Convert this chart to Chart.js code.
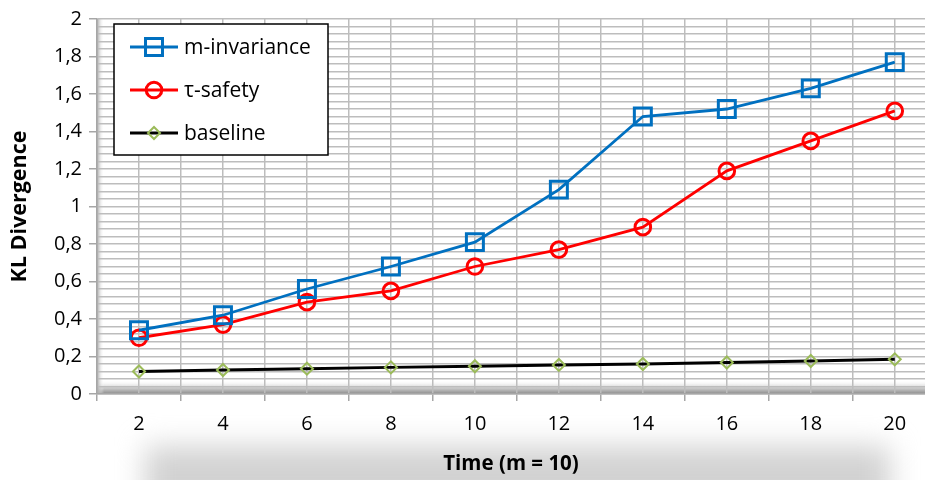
<!DOCTYPE html>
<html>
<head>
<meta charset="utf-8">
<script src="https://cdn.jsdelivr.net/npm/chart.js@4/dist/chart.umd.min.js"></script>
<style>
  html, body { margin: 0; padding: 0; background: #fff; }
  #wrap { width: 925px; height: 480px; position: relative; }
</style>
</head>
<body>
<div id="wrap"><canvas id="chart" width="925" height="480"></canvas></div>
<script>
const categories = [2, 4, 6, 8, 10, 12, 14, 16, 18, 20];
const mInvariance = [0.34, 0.42, 0.56, 0.68, 0.81, 1.09, 1.48, 1.52, 1.63, 1.77];
const tauSafety = [0.30, 0.37, 0.49, 0.55, 0.68, 0.77, 0.89, 1.19, 1.35, 1.51];
const baseline = [0.12, 0.128, 0.135, 0.142, 0.148, 0.155, 0.16, 0.168, 0.176, 0.185];
const yTickLabels = ["0", "0,2", "0,4", "0,6", "0,8", "1", "1,2", "1,4", "1,6", "1,8", "2"];

const FONT = "'Open Sans', sans-serif";
const GRID = "#bdbdbd";

const toPoints = (vals) => vals.map((v, i) => ({ x: categories[i], y: v }));

const series = [
	{ label: "m-invariance", data: mInvariance, color: "#0070c0", style: "rect", radius: 12, width: 2.8, markerColor: "#0070c0" },
	{ label: "τ-safety", data: tauSafety, color: "#ff0000", style: "circle", radius: 7.8, width: 2.8, markerColor: "#ff0000" },
	{ label: "baseline", data: baseline, color: "#000000", style: "rectRot", radius: 6, width: 3, markerColor: "#9bbb59" }
];

const isMajor = (v) => Math.abs(v / 0.2 - Math.round(v / 0.2)) < 1e-6;

// floor / wall shading and the shadow under the x title
const backdrop = {
	id: "backdrop",
	beforeDraw(chart) {
		const { ctx, chartArea: a } = chart;
		ctx.save();
		// x-title shadow
		ctx.filter = "blur(14px)";
		ctx.fillStyle = "#d2d2d2";
		ctx.fillRect(145, 446, 745, 70);
		ctx.filter = "none";
		// floor
		let g = ctx.createLinearGradient(0, a.bottom - 14, 0, a.bottom);
		g.addColorStop(0, "rgba(255,255,255,0)");
		g.addColorStop(0.6, "#c8c8c8");
		g.addColorStop(0.9, "#9a9a9a");
		g.addColorStop(1, "#d0d0d0");
		ctx.fillStyle = g;
		ctx.fillRect(a.left, a.bottom - 14, a.right - a.left, 14);
		// left wall
		g = ctx.createLinearGradient(a.left, 0, a.left + 7, 0);
		g.addColorStop(0, "#a8a8a8");
		g.addColorStop(1, "rgba(255,255,255,0)");
		ctx.fillStyle = g;
		ctx.fillRect(a.left, a.top, 7, a.bottom - a.top);
		ctx.restore();
	}
};

// boxed legend in the upper left of the plot
const boxLegend = {
	id: "boxLegend",
	afterDraw(chart) {
		const ctx = chart.ctx;
		const x0 = 114, y0 = 24, w = 214, h = 131;
		ctx.save();
		ctx.fillStyle = "#fff";
		ctx.fillRect(x0, y0, w, h);
		ctx.strokeStyle = "#000";
		ctx.lineWidth = 1.5;
		ctx.strokeRect(x0, y0, w, h);
		ctx.font = "21px " + FONT;
		ctx.textBaseline = "middle";
		series.forEach((s, i) => {
			const y = y0 + 23 + i * 43;
			ctx.strokeStyle = s.color;
			ctx.lineWidth = s.width;
			ctx.beginPath();
			ctx.moveTo(130, y);
			ctx.lineTo(178, y);
			ctx.stroke();
			ctx.strokeStyle = s.markerColor;
			ctx.fillStyle = "rgba(0,0,0,0)";
			ctx.lineWidth = s.style === "rectRot" ? 2 : 3;
			Chart.helpers.drawPoint(ctx, { pointStyle: s.style, radius: s.radius, rotation: 0, borderWidth: ctx.lineWidth }, 154, y);
			ctx.fillStyle = "#000";
			ctx.fillText(s.label, 184, y + 1);
		});
		ctx.restore();
	}
};

new Chart(document.getElementById("chart"), {
	type: "line",
	data: {
		datasets: series.map((s) => ({
			label: s.label,
			data: toPoints(s.data),
			borderColor: s.color,
			borderWidth: s.width,
			pointStyle: s.style,
			pointRadius: s.radius,
			pointBorderColor: s.markerColor,
			pointBackgroundColor: "rgba(0,0,0,0)",
			pointBorderWidth: s.style === "rectRot" ? 2 : 3,
			tension: 0,
			clip: false
		}))
	},
	options: {
		responsive: false,
		animation: false,
		layout: { autoPadding: false, padding: { top: 19, right: 0, left: 0, bottom: 0 } },
		plugins: {
			legend: { display: false },
			tooltip: { enabled: false }
		},
		scales: {
			x: {
				type: "linear",
				min: 1,
				max: 20.72,
				afterFit: (scale) => {
					scale.height = 86;
					scale.paddingLeft = 0;
					scale.paddingRight = 0;
				},
				afterBuildTicks: (scale) => {
					const t = [];
					for (let v = 1; v <= 20; v++) t.push({ value: v });
					scale.ticks = t;
				},
				grid: {
					color: GRID,
					lineWidth: 1.5,
					tickLength: 7,
					tickColor: (ctx) => (ctx.tick && ctx.tick.value % 2 === 1 ? "#a6a6a6" : "rgba(0,0,0,0)")
				},
				border: { color: "#a6a6a6", width: 1.5 },
				ticks: {
					autoSkip: false,
					maxRotation: 0,
					padding: 11,
					color: "#000",
					font: { family: FONT, size: 20 },
					callback: (v) => (categories.includes(v) ? String(v) : "")
				},
				title: {
					display: true,
					text: "Time (m = 10)",
					color: "#000",
					font: { family: FONT, size: 20.5, weight: "bold" },
					padding: { top: 0, bottom: 4 }
				}
			},
			y: {
				min: 0,
				max: 2,
				afterFit: (scale) => {
					scale.width = 97;
					scale.paddingTop = 0;
					scale.paddingBottom = 0;
				},
				afterBuildTicks: (scale) => {
					const t = [];
					for (let k = 0; k <= 50; k++) t.push({ value: k * 0.04 });
					scale.ticks = t;
				},
				grid: {
					color: GRID,
					lineWidth: 1.5,
					tickLength: 8,
					tickColor: (ctx) => (ctx.tick && isMajor(ctx.tick.value) ? "#a6a6a6" : "rgba(0,0,0,0)")
				},
				border: { color: "#a6a6a6", width: 1.5 },
				ticks: {
					autoSkip: false,
					padding: 7,
					color: "#000",
					font: { family: FONT, size: 20 },
					callback: (v) => (isMajor(v) ? yTickLabels[Math.round(v / 0.2)] : "")
				},
				title: {
					display: true,
					text: "KL Divergence",
					color: "#000",
					font: { family: FONT, size: 21.5, weight: "bold" },
					padding: { top: 7, bottom: 0 }
				}
			}
		}
	},
	plugins: [backdrop, boxLegend]
});
</script>
</body>
</html>
